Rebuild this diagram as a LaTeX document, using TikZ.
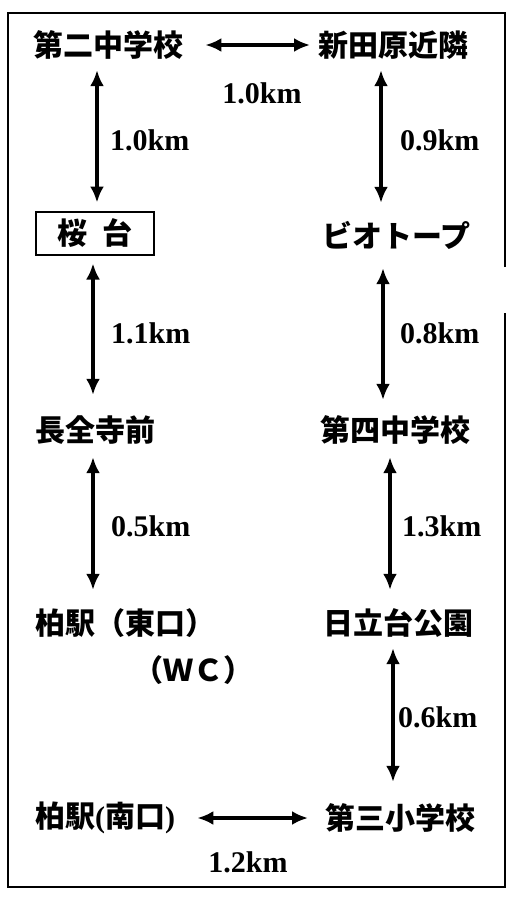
\documentclass[tikz,border=0pt]{standalone}
\usepackage{fontspec}
\usepackage{tikz}
\usetikzlibrary{arrows.meta}
\setmainfont{Liberation Serif}
\newfontfamily\jp{Noto Sans CJK JP}

\begin{document}
\begin{tikzpicture}[x=1pt, y=-1pt]
        \tikzstyle{place} = [anchor=west, inner sep=0pt, minimum height=30pt, font=\jp\bfseries\fontsize{30}{30}\selectfont]
        \tikzstyle{dist} = [inner sep=0pt, font=\bfseries\fontsize{30}{30}\selectfont]
        \tikzset{tip/.tip={Latex[length=16pt,width=14pt]}}
        \tikzstyle{link} = [line width=3.4pt, tip-tip]

        \useasboundingbox (0,0) rectangle (509,900);
        \draw [line width=2.6pt] (505,267) -- (505,13) -- (8,13) -- (8,887) -- (505,887) -- (505,313);

        \node [place] (dai2) at (33,45) {第二中学校};
        \node [place] (shinden) at (318,45) {新田原近隣};
        \node [draw, line width=2pt, inner sep=0pt, minimum width=118pt, minimum height=43pt, font=\jp\bfseries\fontsize{30}{30}\selectfont] (sakura) at (95,233) {桜\hspace{0.5em}台};
        \node [place] (biotope) at (322,235) {ビオトープ};
        \node [place] (chozen) at (35,430) {長全寺前};
        \node [place] (dai4) at (320,430) {第四中学校};
        \node [place] (eastexit) at (35,623) {柏駅（東口）};
        \node [place] (wc) at (133,670) {（ＷＣ）};
        \node [place] (hitachi) at (323,623) {日立台公園};
        \node [place] (southexit) at (35,818) {柏駅{\rmfamily(}南口{\rmfamily)}};
        \node [place] (dai3) at (325,818) {第三小学校};

        \draw [link, shorten <=22pt, shorten >=8pt] (dai2.east) -- (shinden.west);
        \draw [link, shorten <=10pt, shorten >=8pt] (dai2.south -| 97,0) -- (sakura.north -| 97,0);
        \draw [link, shorten <=8pt, shorten >=20pt] (sakura.south -| 93,0) -- (chozen.north -| 93,0);
        \draw [link, shorten <=12pt, shorten >=18pt] (chozen.south -| 93,0) -- (eastexit.north -| 93,0);
        \draw [link, shorten <=10pt, shorten >=17pt] (shinden.south -| 381,0) -- (biotope.north -| 381,0);
        \draw [link, shorten <=18pt, shorten >=15pt] (biotope.south -| 383,0) -- (dai4.north -| 383,0);
        \draw [link, shorten <=12pt, shorten >=18pt] (dai4.south -| 390,0) -- (hitachi.north -| 390,0);
        \draw [link, shorten <=10pt, shorten >=21pt] (hitachi.south -| 393,0) -- (dai3.north -| 393,0);
        \draw [link, shorten <=22pt, shorten >=17pt] (southexit.east) -- (dai3.west);

        \node [dist] (d1) at (262,93) {1.0km};
        \node [dist, anchor=west] (d2) at (110,140) {1.0km};
        \node [dist, anchor=west] (d3) at (400,140) {0.9km};
        \node [dist, anchor=west] (d4) at (111,333) {1.1km};
        \node [dist, anchor=west] (d5) at (400,333) {0.8km};
        \node [dist, anchor=west] (d6) at (111,526) {0.5km};
        \node [dist, anchor=west] (d7) at (402,526) {1.3km};
        \node [dist, anchor=west] (d8) at (398,717) {0.6km};
        \node [dist] (d9) at (248,862) {1.2km};
    \end{tikzpicture}
\end{document}
